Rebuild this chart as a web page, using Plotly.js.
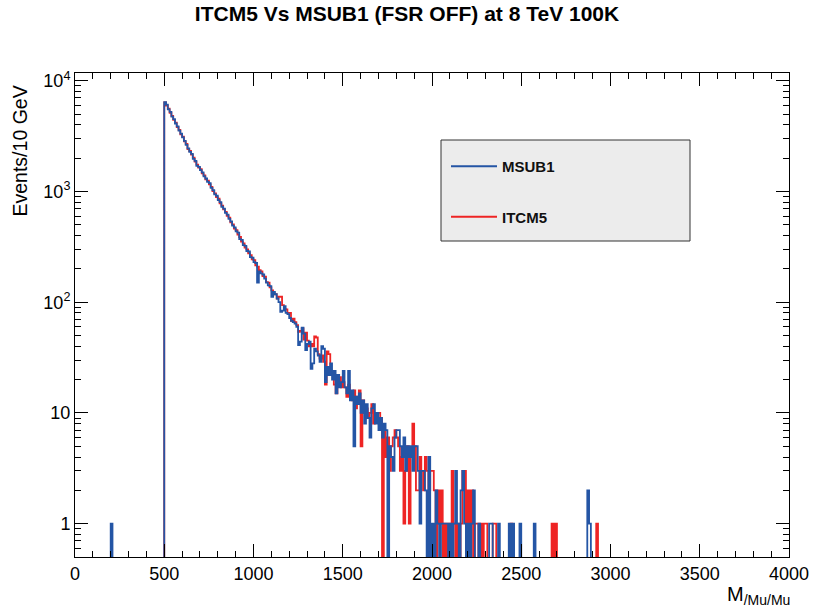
<!DOCTYPE html>
<html>
<head>
<meta charset="utf-8">
<script src="https://cdn.plot.ly/plotly-3.0.1.min.js"></script>
<style>html,body{margin:0;padding:0;background:#fff;}#chart{width:814px;height:614px;}</style>
</head>
<body>
<div id="chart"></div>
<script>
// ---- data (events per 10 GeV bin) ----
const BIN_WIDTH = 10;              // GeV
const X_MIN = 0, X_MAX = 4000;
const FIRST_BIN = 500;             // lower edge of first listed bin

// MSUB1, bins 500..2990 (lower edges), one row = 100 GeV
const msub1 = [
 6420,6080,5510,5230,4740,4510,4110,3880,3540,3330,
 3080,2870,2640,2450,2280,2190,1970,1890,1700,1670,
 1560,1490,1370,1310,1220,1190,1080,1030,940,915,
 835,800,728,700,640,618,566,538,492,475,
 436,425,372,366,328,322,290,287,255,252,
 230,226,150,190,182,178,163,150,142,140,
 112,124,118,108,100,82,84,92,80,78,
 72,68,66,64,60,41,44,59,52,37,
 42,44,25,28,38,36,33,29,40,38,
 19,26,22,28,20,24,15,22,17,19,
 24,17,15,24,13,16,5,14,12,15,
 10,13,8,12,9,6,11,12,8,10,
 7,9,6,8,7,0,5,4,3,6,
 7,7,5,4,6,3,5,4,5,3,
 5,5,3,1,3,3,2,0,4,0,
 1,0,2,1,0,1,1,1,1,0,
 1,0,1,3,1,0,2,3,1,0,
 1,0,1,2,0,0,1,0,0,0,
 0,0,1,1,0,0,0,1,0,0,
 0,0,0,1,0,1,0,0,0,1,
 0,0,0,0,0,0,0,1,0,0,
 0,0,0,0,0,0,0,0,0,0,
 0,0,0,0,0,0,0,0,0,0,
 0,0,0,0,0,0,0,2,1,0,
 0,0,0,0,0,0,0,0,0,0
];
// isolated MSUB1 entry below the main range
const msub1ExtraMass = [200];
const msub1ExtraCount = [1];

// ITCM5, bins 500..2990 (lower edges), one row = 100 GeV
const itcm5 = [
 6380,5980,5590,5140,4820,4440,4180,3820,3600,3280,
 3120,2830,2690,2410,2320,2150,2020,1860,1750,1640,
 1590,1460,1400,1290,1250,1160,1100,1010,960,890,
 860,780,745,688,655,604,580,525,505,462,
 448,408,388,352,340,312,300,276,266,244,
 240,215,210,195,190,172,170,152,150,136,
 128,120,118,108,112,112,94,87,86,80,
 80,68,71,66,62,54,55,58,46,53,
 45,40,42,40,49,48,34,31,33,29,
 18,36,34,24,22,18,15,20,21,17,
 19,17,14,18,15,13,16,11,14,16,
 5,13,10,11,9,10,12,8,9,10,
 10,9,0,7,4,6,3,5,6,7,
 6,5,3,4,1,3,5,1,4,8,
 5,2,2,4,3,2,4,3,2,3,
 3,2,0,2,1,2,0,1,0,1,
 0,3,1,0,1,0,1,3,3,0,
 2,1,2,0,1,1,0,1,0,1,
 1,0,0,0,1,1,0,0,0,0,
 0,0,0,0,1,0,0,0,0,0,
 0,0,0,0,0,0,0,0,0,0,
 0,0,0,0,0,0,0,1,0,1,
 0,0,0,0,0,0,0,0,0,0,
 0,0,0,0,0,0,0,0,0,0,
 0,0,1,0,0,0,0,0,0,0
];

const xTickVals = [0,500,1000,1500,2000,2500,3000,3500,4000];
const yTickVals = [1,10,100,1000,10000];
const yTickText = ['1','10','10<sup>2</sup>','10<sup>3</sup>','10<sup>4</sup>'];
const Y_MIN = 0.5;

// ---- build full-range histograms ----
function fullHist(counts, extraMass, extraCount) {
  const n = (X_MAX - X_MIN) / BIN_WIDTH;
  const h = new Array(n).fill(0);
  const off = (FIRST_BIN - X_MIN) / BIN_WIDTH;
  counts.forEach((c, i) => { h[off + i] = c; });
  (extraMass || []).forEach((m, i) => { h[(m - X_MIN) / BIN_WIDTH] = extraCount[i]; });
  return h;
}
function stepTrace(h, name, color, rank) {
  const x = [], y = [];
  h.forEach((c, i) => { x.push(X_MIN + i * BIN_WIDTH); y.push(c > 0 ? c : Y_MIN * 0.98); });
  x.push(X_MAX); y.push(y[y.length - 1]);
  return {x, y, name: '<b>' + name + '</b>', type: 'scatter', mode: 'lines', line: {shape: 'hv', color, width: 1.8},
          legendgroup: name, legendrank: rank, hoverinfo: 'skip'};
}

const hMsub = fullHist(msub1, msub1ExtraMass, msub1ExtraCount);
const hItcm = fullHist(itcm5);
const traces = [
  stepTrace(hItcm, 'ITCM5', '#ee2424', 2),
  stepTrace(hMsub, 'MSUB1', '#2455a5', 1)
];

// minor ticks
const yMinor = [];
[0.1,1,10,100,1000].forEach(d => { for (let k = 2; k <= 9; k++) { const v = k * d; if (v >= Y_MIN && v < 10000) yMinor.push(v); } });

const L = 75, R = 25, T = 73, B = 57, W = 814, H = 614;
const pw = W - L - R, ph = H - T - B;
const px = v => (v - L) / pw;
const py = v => (H - B - v) / ph;

const layout = {
  width: W, height: H,
  margin: {l: L, r: R, t: T, b: B},
  paper_bgcolor: '#ffffff', plot_bgcolor: '#ffffff',
  font: {family: 'Liberation Sans, Arial, sans-serif', color: '#000', size: 18},
  title: {text: '<b>ITCM5 Vs MSUB1 (FSR OFF) at 8 TeV 100K</b>', x: 0.5, xanchor: 'center', y: 0.977, yanchor: 'middle',
          font: {size: 21, color: '#000'}},
  xaxis: {range: [X_MIN, X_MAX], tickmode: 'array', tickvals: xTickVals, ticks: 'inside', ticklen: 13,
          tickcolor: '#000', showline: true, linecolor: '#000', linewidth: 1, mirror: 'allticks',
          showgrid: false, zeroline: false, tickfont: {size: 18},
          minor: {dtick: 100, tick0: 0, ticks: 'inside', ticklen: 6, tickcolor: '#000', showgrid: false}},
  yaxis: {type: 'log', range: [Math.log10(Y_MIN), 4.07], tickmode: 'array', tickvals: yTickVals, ticktext: yTickText,
          ticks: 'inside', ticklen: 13, tickcolor: '#000', showline: true, linecolor: '#000', linewidth: 1,
          mirror: 'allticks', showgrid: false, zeroline: false, tickfont: {size: 18},
          minor: {tickmode: 'array', tickvals: yMinor, ticks: 'inside', ticklen: 6, tickcolor: '#000', showgrid: false}},
  showlegend: true,
  legend: {x: px(446), y: py(150), xanchor: 'left', yanchor: 'top', bgcolor: 'rgba(0,0,0,0)', borderwidth: 0,
           font: {size: 15, color: '#111'}, traceorder: 'grouped', tracegroupgap: 28, itemwidth: 46},
  shapes: [{type: 'rect', xref: 'paper', yref: 'paper', x0: px(441), x1: px(690), y0: py(241), y1: py(140),
            fillcolor: '#ececec', line: {color: '#333', width: 1}, layer: 'below'}],
  annotations: [
    {text: 'Events/10 GeV', xref: 'paper', yref: 'paper', x: px(19), y: py(84), xanchor: 'center', yanchor: 'top',
     textangle: -90, showarrow: false, font: {size: 19.5, color: '#000'}},
    {text: 'M<sub>/Mu/Mu</sub>', xref: 'paper', yref: 'paper', x: px(792), y: py(595), xanchor: 'right', yanchor: 'middle',
     showarrow: false, font: {size: 20, color: '#000'}}
  ]
};
Plotly.newPlot('chart', traces, layout, {displayModeBar: false, staticPlot: true});
</script>
</body>
</html>
